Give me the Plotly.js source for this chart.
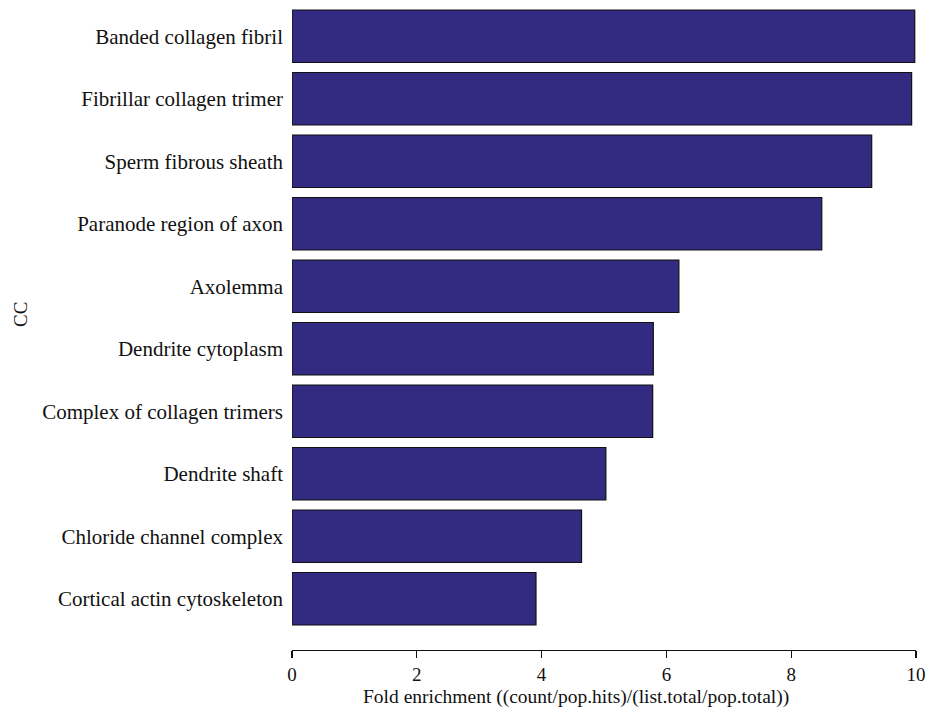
<!DOCTYPE html>
<html>
<head>
<meta charset="utf-8">
<script src="https://cdn.plot.ly/plotly-3.0.1.min.js"></script>
<style>html,body{margin:0;padding:0;background:#fff;}#chart{width:927px;height:720px;}</style>
</head>
<body>
<div id="chart"></div>
<script>
// Categories listed bottom-to-top
const categories = [
  "Cortical actin cytoskeleton",
  "Chloride channel complex",
  "Dendrite shaft",
  "Complex of collagen trimers",
  "Dendrite cytoplasm",
  "Axolemma",
  "Paranode region of axon",
  "Sperm fibrous sheath",
  "Fibrillar collagen trimer",
  "Banded collagen fibril"
];
const foldEnrichment = [3.91, 4.64, 5.03, 5.78, 5.79, 6.20, 8.49, 9.29, 9.93, 9.98];
const xTicks = [0, 2, 4, 6, 8, 10];
const xTitle = "Fold enrichment ((count/pop.hits)/(list.total/pop.total))";
const yTitle = "CC";

const fontFam = "Liberation Serif, Times New Roman, serif";

const trace = {
  type: "bar",
  orientation: "h",
  x: foldEnrichment,
  y: categories,
  marker: { color: "#332a82", line: { color: "#111111", width: 1.2 } },
  hoverinfo: "x+y"
};

const layout = {
  width: 927, height: 720,
  margin: { l: 292, r: 11, t: 5, b: 70 },
  paper_bgcolor: "#fff", plot_bgcolor: "#fff",
  font: { family: fontFam, size: 18, color: "#111" },
  bargap: 0.16,
  showlegend: false,
  xaxis: {
    range: [0, 10],
    tickvals: xTicks,
    ticktext: xTicks.map(String),
    ticks: "outside", ticklen: 7, tickwidth: 1.2, tickcolor: "#111",
    showline: true, linecolor: "#111", linewidth: 1.2,
    showgrid: false, zeroline: false,
    tickfont: { family: fontFam, size: 19, color: "#111" }
  },
  yaxis: {
    type: "category",
    range: [-0.82, 9.5],
    showline: false, showgrid: false, zeroline: false,
    ticks: "", ticklabelstandoff: 8,
    tickfont: { family: fontFam, size: 21, color: "#111" }
  },
  annotations: [
    {
      text: xTitle, xref: "paper", yref: "paper",
      x: (576 - 292) / 624, y: 0, yshift: -47,
      xanchor: "center", yanchor: "middle", showarrow: false,
      font: { family: fontFam, size: 19.5, color: "#111" }
    },
    {
      text: yTitle, xref: "paper", yref: "paper",
      x: 0, xshift: -272, y: (650 - 315) / 645,
      xanchor: "center", yanchor: "middle", showarrow: false, textangle: -90,
      font: { family: fontFam, size: 19, color: "#111" }
    }
  ]
};

Plotly.newPlot("chart", [trace], layout, { displayModeBar: false, staticPlot: true });
</script>
</body>
</html>
